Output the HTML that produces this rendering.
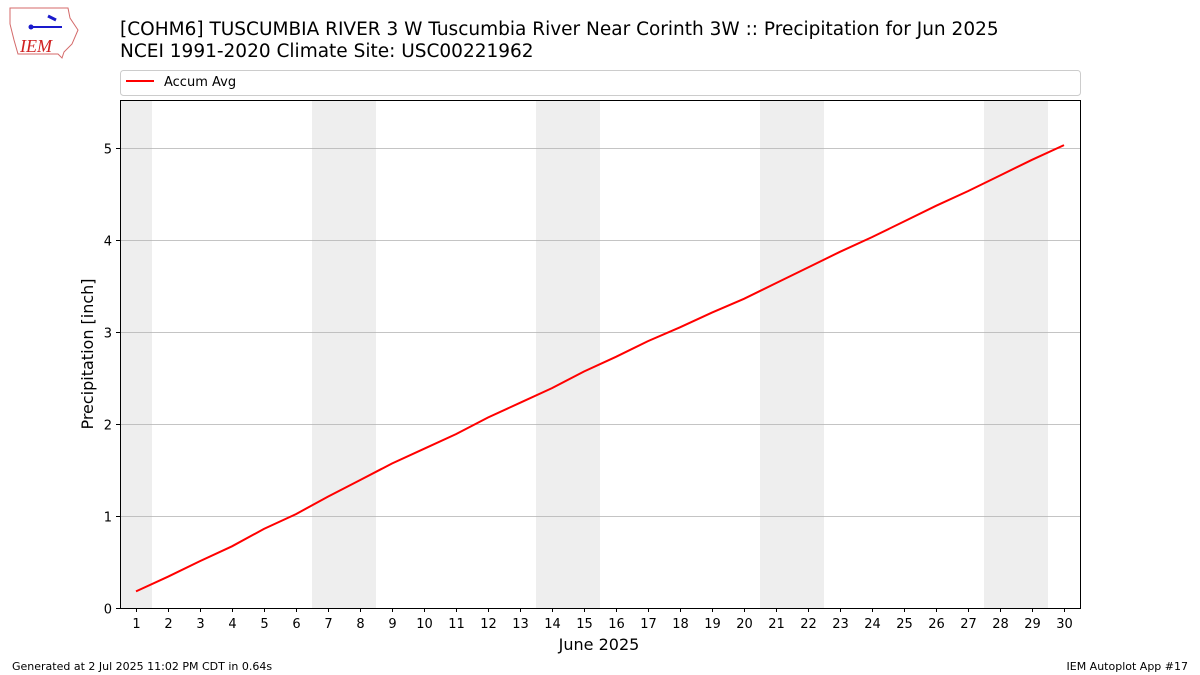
<!DOCTYPE html>
<html><head><meta charset="utf-8"><style>
body{margin:0;background:#fff;font-family:"DejaVu Sans","Liberation Sans",sans-serif;}
#wrap{position:relative;width:1200px;height:675px;overflow:hidden;}
svg text{font-family:"DejaVu Sans","Liberation Sans",sans-serif;}
</style></head><body>
<div id="wrap">
<svg id="chart" width="1200" height="675" xmlns="http://www.w3.org/2000/svg">
  <g>
    <path d="M10,8 L68,8 L70,18 L78,30 L72,44 L64,52 L62,58 L58,54 L18,54 L14,40 L10,24 Z" fill="#fff" stroke="#d46a6a" stroke-width="1"/>
    <line x1="30" y1="27" x2="62" y2="27" stroke="#1a1acc" stroke-width="2"/>
    <circle cx="31" cy="27" r="2.5" fill="#1a1acc"/>
    <path d="M48,16 L56,20" stroke="#1a1acc" stroke-width="3"/>
    <text x="20" y="52" style="font-family:'Liberation Serif',serif" font-style="italic" font-size="18" fill="#d02020">IEM</text>
  </g>
  <text x="120" y="35" font-size="18.5" fill="#000">[COHM6] TUSCUMBIA RIVER 3 W Tuscumbia River Near Corinth 3W :: Precipitation for Jun 2025</text>
  <text x="120" y="57" font-size="18.5" fill="#000">NCEI 1991-2020 Climate Site: USC00221962</text>
  <g>
    <rect x="120.5" y="70.5" width="960" height="25" rx="3" fill="#fff" stroke="#ccc"/>
    <line x1="126" y1="81" x2="154" y2="81" stroke="red" stroke-width="2"/>
    <text x="164" y="86" font-size="13">Accum Avg</text>
  </g>
  <g id="shade"></g>
  <g id="grid"></g>
  <g id="series"></g>
  <rect x="120.5" y="100.5" width="960" height="508" fill="none" stroke="#000" stroke-width="1"/>
  <g id="axes"></g>
  <text x="599" y="650" font-size="16" text-anchor="middle">June 2025</text>
  <text transform="translate(93,354) rotate(-90)" font-size="16" text-anchor="middle">Precipitation [inch]</text>
  <text x="12" y="670" font-size="11">Generated at 2 Jul 2025 11:02 PM CDT in 0.64s</text>
  <text x="1188" y="670" font-size="11" text-anchor="end">IEM Autoplot App #17</text>
</svg>
</div>
<script>
const days = [1,2,3,4,5,6,7,8,9,10,11,12,13,14,15,16,17,18,19,20,21,22,23,24,25,26,27,28,29,30];
const accumAvg = [0.18,0.34,0.51,0.67,0.86,1.02,1.21,1.39,1.57,1.73,1.89,2.07,2.23,2.39,2.57,2.73,2.90,3.05,3.21,3.36,3.53,3.70,3.87,4.03,4.20,4.37,4.53,4.70,4.87,5.03];
const weekendDays = [1,7,8,14,15,21,22,28,29];
const yTicks = [0,1,2,3,4,5];
const NS = "http://www.w3.org/2000/svg";
const X0=120, X1=1080, Y0=608, Y1=100;
const xMin=0.5, xMax=30.5, yMin=0, yMax=5.52;
function xs(d){return X0+(d-xMin)/(xMax-xMin)*(X1-X0);}
function ys(v){return Y0-(v-yMin)/(yMax-yMin)*(Y0-Y1);}
function mk(tag,attrs,parent){const e=document.createElementNS(NS,tag);for(const k in attrs)e.setAttribute(k,attrs[k]);parent.appendChild(e);return e;}
const shade=document.getElementById('shade'),grid=document.getElementById('grid'),series=document.getElementById('series'),axes=document.getElementById('axes');
weekendDays.forEach(d=>{
  const r=mk('rect',{x:xs(d-0.5),y:Y1,width:xs(d+0.5)-xs(d-0.5),height:Y0-Y1,fill:'#eeeeee'},shade);
  
  
});
yTicks.forEach(t=>{
  const y=Math.round(ys(t))+0.5;
  if(t>0){const g=mk('line',{x1:X0,x2:X1,y1:y,y2:y,stroke:'#b0b0b0','stroke-width':0.8},grid);
  
  }
  const tk=mk('line',{x1:X0-4,x2:X0,y1:y,y2:y,stroke:'#000'},axes);
  
  
  const lb=mk('text',{x:X0-8,y:y+5,'font-size':13,'text-anchor':'end'},axes);
  lb.textContent=t;
  
  
});
days.forEach(d=>{
  const x=Math.round(xs(d))+0.5;
  const tk=mk('line',{x1:x,x2:x,y1:Y0,y2:Y0+4,stroke:'#000'},axes);
  
  
  const lb=mk('text',{x:x,y:Y0+20,'font-size':13,'text-anchor':'middle'},axes);
  lb.textContent=d;
  
  
});
const pts=days.map((d,i)=>xs(d).toFixed(1)+','+ys(accumAvg[i]).toFixed(1)).join(' ');
const pl=mk('polyline',{points:pts,fill:'none',stroke:'red','stroke-width':2},series);


</script>
</body></html>
